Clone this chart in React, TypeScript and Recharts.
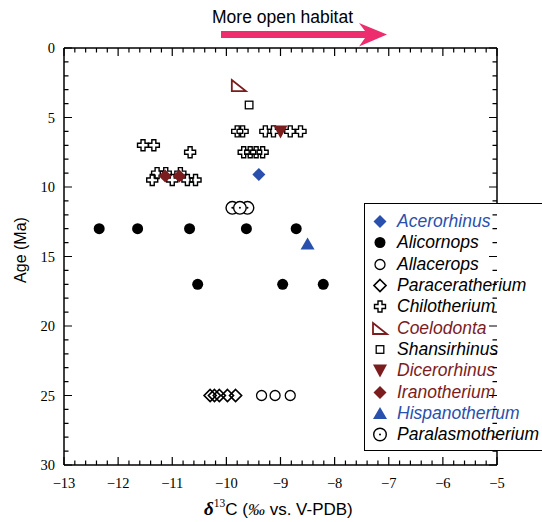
import React from "react";
import { ScatterChart, Scatter, XAxis, YAxis, Legend } from "recharts";

const BLUE = "#2a50ad";
const RED = "#7b1c1e";
const PINK = "#ed2d6d";

// δ13C (x) vs age in Ma (y)
const acerorhinus = [{ x: -9.4, y: 9.1 }];
const alicornops = [
  { x: -12.35, y: 13 },
  { x: -11.64, y: 13 },
  { x: -10.68, y: 13 },
  { x: -9.63, y: 13 },
  { x: -8.71, y: 13 },
  { x: -10.53, y: 17 },
  { x: -8.96, y: 17 },
  { x: -8.21, y: 17 },
];
const allacerops = [
  { x: -9.35, y: 25 },
  { x: -9.1, y: 25 },
  { x: -8.82, y: 25 },
];
const paraceratherium = [
  { x: -10.3, y: 25 },
  { x: -10.22, y: 25 },
  { x: -10.13, y: 25 },
  { x: -9.98, y: 25 },
  { x: -9.83, y: 25 },
];
const chilotherium = [
  { x: -9.8, y: 6 },
  { x: -9.7, y: 6 },
  { x: -9.28, y: 6 },
  { x: -9.13, y: 6 },
  { x: -8.82, y: 6 },
  { x: -8.63, y: 6 },
  { x: -11.54, y: 7 },
  { x: -11.34, y: 7 },
  { x: -10.67, y: 7.5 },
  { x: -9.68, y: 7.5 },
  { x: -9.56, y: 7.5 },
  { x: -9.45, y: 7.5 },
  { x: -9.33, y: 7.5 },
  { x: -11.37, y: 9.5 },
  { x: -11.28, y: 9.0 },
  { x: -11.12, y: 9.0 },
  { x: -11.0, y: 9.5 },
  { x: -10.85, y: 9.0 },
  { x: -10.72, y: 9.5 },
  { x: -10.57, y: 9.5 },
];
const coelodonta = [{ x: -9.77, y: 2.7 }];
const shansirhinus = [{ x: -9.58, y: 4.1 }];
const dicerorhinus = [{ x: -9.0, y: 6.0 }];
const iranotherium = [
  { x: -11.13, y: 9.2 },
  { x: -10.87, y: 9.2 },
];
const hispanotherium = [{ x: -8.5, y: 14.1 }];
const paralasmotherium = [
  { x: -9.89, y: 11.5 },
  { x: -9.61, y: 11.5 },
  { x: -9.75, y: 11.5 },
];

const X_MIN = -13, X_MAX = -5, Y_MIN = 0, Y_MAX = 30;
const X_LABELS = [-13, -12, -11, -10, -9, -8, -7, -6, -5];
const Y_LABELS = [0, 5, 10, 15, 20, 25, 30];
const X_TICKS = Array.from({ length: 41 }, (_, i) => Math.round((-13 + i * 0.2) * 10) / 10);
const Y_TICKS = Array.from({ length: 31 }, (_, i) => i);
// corner points so the top and right frame axes get a domain of their own
const frameCorners = [
  { x: X_MIN, y: Y_MIN },
  { x: X_MAX, y: Y_MAX },
];

// chart box
const W = 542, H = 522;
const MARGIN = { top: 38, right: 35, bottom: 17, left: 24 };
const Y_AXIS_W = 40, X_AXIS_H = 40, FRAME_AXIS = 10;
const PLOT = {
  left: MARGIN.left + Y_AXIS_W,
  right: W - MARGIN.right - FRAME_AXIS,
  top: MARGIN.top + FRAME_AXIS,
  bottom: H - MARGIN.bottom - X_AXIS_H,
};

type Kind =
  | "diamondFill"
  | "dot"
  | "ring"
  | "diamondOpen"
  | "cross"
  | "rtri"
  | "square"
  | "triDown"
  | "triUp"
  | "ringDot";

const SERIES: { name: string; data: { x: number; y: number }[]; kind: Kind; color: string }[] = [
  { name: "Acerorhinus", data: acerorhinus, kind: "diamondFill", color: BLUE },
  { name: "Alicornops", data: alicornops, kind: "dot", color: "#000" },
  { name: "Allacerops", data: allacerops, kind: "ring", color: "#000" },
  { name: "Paraceratherium", data: paraceratherium, kind: "diamondOpen", color: "#000" },
  { name: "Chilotherium", data: chilotherium, kind: "cross", color: "#000" },
  { name: "Coelodonta", data: coelodonta, kind: "rtri", color: RED },
  { name: "Shansirhinus", data: shansirhinus, kind: "square", color: "#000" },
  { name: "Dicerorhinus", data: dicerorhinus, kind: "triDown", color: RED },
  { name: "Iranotherium", data: iranotherium, kind: "diamondFill", color: RED },
  { name: "Hispanotherium", data: hispanotherium, kind: "triUp", color: BLUE },
  { name: "Paralasmotherium", data: paralasmotherium, kind: "ringDot", color: "#000" },
];

function Marker({ kind, color, cx, cy }: { kind: Kind; color: string; cx: number; cy: number }) {
  switch (kind) {
    case "diamondFill":
      return <polygon points={`${cx},${cy - 6.5} ${cx + 6.5},${cy} ${cx},${cy + 6.5} ${cx - 6.5},${cy}`} fill={color} />;
    case "dot":
      return <circle cx={cx} cy={cy} r={5.5} fill={color} />;
    case "ring":
      return <circle cx={cx} cy={cy} r={5} fill="none" stroke={color} strokeWidth={1.3} />;
    case "diamondOpen":
      return (
        <polygon
          points={`${cx},${cy - 6} ${cx + 6},${cy} ${cx},${cy + 6} ${cx - 6},${cy}`}
          fill="none"
          stroke={color}
          strokeWidth={1.7}
        />
      );
    case "cross": {
      const a = 2, l = 5.5;
      const p = [
        [-a, -l], [a, -l], [a, -a], [l, -a], [l, a], [a, a],
        [a, l], [-a, l], [-a, a], [-l, a], [-l, -a], [-a, -a],
      ].map(([dx, dy]) => `${cx + dx},${cy + dy}`).join(" ");
      return <polygon points={p} fill="none" stroke={color} strokeWidth={1.4} />;
    }
    case "rtri":
      return (
        <polygon
          points={`${cx - 7},${cy - 5.5} ${cx + 7},${cy + 5.5} ${cx - 7},${cy + 5.5}`}
          fill="#fff"
          stroke={color}
          strokeWidth={1.8}
        />
      );
    case "square":
      return <rect x={cx - 3.8} y={cy - 3.8} width={7.6} height={7.6} fill="none" stroke={color} strokeWidth={1.3} />;
    case "triDown":
      return <polygon points={`${cx - 7},${cy - 6} ${cx + 7},${cy - 6} ${cx},${cy + 7}`} fill={color} />;
    case "triUp":
      return <polygon points={`${cx - 7},${cy + 5.5} ${cx + 7},${cy + 5.5} ${cx},${cy - 6.5}`} fill={color} />;
    case "ringDot":
      return (
        <g>
          <circle cx={cx} cy={cy} r={6.3} fill="#fff" stroke={color} strokeWidth={1.4} />
          <circle cx={cx} cy={cy} r={1} fill={color} />
        </g>
      );
  }
  return null;
}

const isMajorX = (v: number) => X_LABELS.some((l) => Math.abs(l - v) < 1e-6);
const isMajorY = (v: number) => Y_LABELS.includes(v);

const SERIF = "'Liberation Serif', 'DejaVu Serif', serif";
const SANS = "'Liberation Sans', Arial, sans-serif";

function BottomLabel(props: any) {
  const x = Number(props.x);
  const y = Number(props.y);
  const v = props.payload.value;
  if (!isMajorX(v)) return <g />;
  return (
    <text x={x} y={y + 23} textAnchor="middle" fontFamily={SERIF} fontSize={14.5} fill="#000">
      {String(v).replace("-", "\u2212")}
    </text>
  );
}

function LeftLabel(props: any) {
  const x = Number(props.x);
  const y = Number(props.y);
  const v = props.payload.value;
  if (!isMajorY(v)) return <g />;
  return (
    <text x={x - 9} y={y + 5} textAnchor="end" fontFamily={SERIF} fontSize={14.5} fill="#000">
      {v}
    </text>
  );
}

// inward frame ticks on all four sides, same linear mapping as the chart's axes
const px = (v: number) => PLOT.left + ((v - X_MIN) / (X_MAX - X_MIN)) * (PLOT.right - PLOT.left);
const py = (v: number) => PLOT.top + ((v - Y_MIN) / (Y_MAX - Y_MIN)) * (PLOT.bottom - PLOT.top);

function FrameTicks() {
  const d: string[] = [];
  X_TICKS.forEach((t) => {
    const len = isMajorX(t) ? 8 : 4.5;
    const x = px(t);
    d.push(`M${x},${PLOT.bottom}V${PLOT.bottom - len}`, `M${x},${PLOT.top}V${PLOT.top + len}`);
  });
  Y_TICKS.forEach((t) => {
    const len = isMajorY(t) ? 8 : 4.5;
    const y = py(t);
    d.push(`M${PLOT.left},${y}H${PLOT.left + len}`, `M${PLOT.right},${y}H${PLOT.right - len}`);
  });
  return <path d={d.join("")} stroke="#000" strokeWidth={1.2} fill="none" />;
}

function LegendBox() {
  return (
    <div
      style={{
        boxSizing: "border-box",
        width: 190,
        height: 248,
        border: "1.5px solid #000",
        background: "#fff",
        paddingTop: 7,
      }}
    >
      {SERIES.map((s) => (
        <div key={s.name} style={{ display: "flex", alignItems: "center", height: 21.3 }}>
          <svg width={32} height={21} style={{ flex: "none" }}>
            <Marker kind={s.kind} color={s.color} cx={15} cy={10.5} />
          </svg>
          <span
            style={{
              fontFamily: SANS,
              fontStyle: "italic",
              fontSize: 17.5,
              color: s.color,
              whiteSpace: "nowrap",
            }}
          >
            {s.name}
          </span>
        </div>
      ))}
    </div>
  );
}

const axisLine = { stroke: "#000", strokeWidth: 1.5 };

export default function App() {
  return (
    <div style={{ position: "absolute", left: 0, top: 0, width: W, height: H, background: "#fff" }}>
      <ScatterChart width={W} height={H} margin={MARGIN}>
        <XAxis
          type="number"
          dataKey="x"
          domain={[X_MIN, X_MAX]}
          ticks={X_TICKS}
          interval={0}
          height={X_AXIS_H}
          tickSize={0}
          tickMargin={0}
          tickLine={false}
          axisLine={axisLine}
          tick={BottomLabel}
        />
        <XAxis
          xAxisId="top"
          dataKey="x"
          type="number"
          orientation="top"
          domain={[X_MIN, X_MAX]}
          height={FRAME_AXIS}
          tickLine={false}
          tick={false}
          axisLine={axisLine}
        />
        <YAxis
          type="number"
          dataKey="y"
          domain={[Y_MIN, Y_MAX]}
          reversed
          ticks={Y_TICKS}
          interval={0}
          width={Y_AXIS_W}
          tickSize={0}
          tickMargin={0}
          tickLine={false}
          axisLine={axisLine}
          tick={LeftLabel}
        />
        <YAxis
          yAxisId="right"
          dataKey="y"
          type="number"
          orientation="right"
          domain={[Y_MIN, Y_MAX]}
          reversed
          width={FRAME_AXIS}
          tickLine={false}
          tick={false}
          axisLine={axisLine}
        />
        <Scatter
          xAxisId="top"
          yAxisId="right"
          data={frameCorners}
          legendType="none"
          isAnimationActive={false}
          shape={() => <g />}
        />
        {SERIES.map((s) => (
          <Scatter
            key={s.name}
            name={s.name}
            data={s.data}
            fill={s.color}
            isAnimationActive={false}
            shape={(p: any) => <Marker kind={s.kind} color={s.color} cx={p.cx} cy={p.cy} />}
          />
        ))}
        <Legend
          layout="vertical"
          align="center"
          verticalAlign="middle"
          content={() => <LegendBox />}
          wrapperStyle={{ left: 364, top: 203, width: 190, height: 248 }}
        />
      </ScatterChart>
      <svg
        width={W}
        height={H}
        style={{ position: "absolute", left: 0, top: 0, pointerEvents: "none" }}
      >
        <FrameTicks />
        <text x={212} y={23} fontFamily={SANS} fontSize={17.5} fill="#000">
          More open habitat
        </text>
        <polygon
          points="221,31 365,31 359,23 387,34.5 359,46.5 365,38 221,38"
          fill={PINK}
        />
        <text
          x={20}
          y={250}
          transform="rotate(-90 20 250)"
          textAnchor="middle"
          dominantBaseline="central"
          fontFamily={SANS}
          fontSize={16}
          fill="#000"
        >
          Age (Ma)
        </text>
        <text x={204} y={515} fontSize={17} fill="#000">
          <tspan fontFamily={SERIF} fontStyle="italic" fontWeight="bold" fontSize={19}>
            δ
          </tspan>
          <tspan fontFamily={SERIF} fontSize={11.5} dy={-8}>
            13
          </tspan>
          <tspan fontFamily={SANS} dy={8}>
            C (
          </tspan>
          <tspan fontFamily={SERIF} fontStyle="italic">
            ‰
          </tspan>
          <tspan fontFamily={SANS}> vs. V-PDB)</tspan>
        </text>
      </svg>
    </div>
  );
}
